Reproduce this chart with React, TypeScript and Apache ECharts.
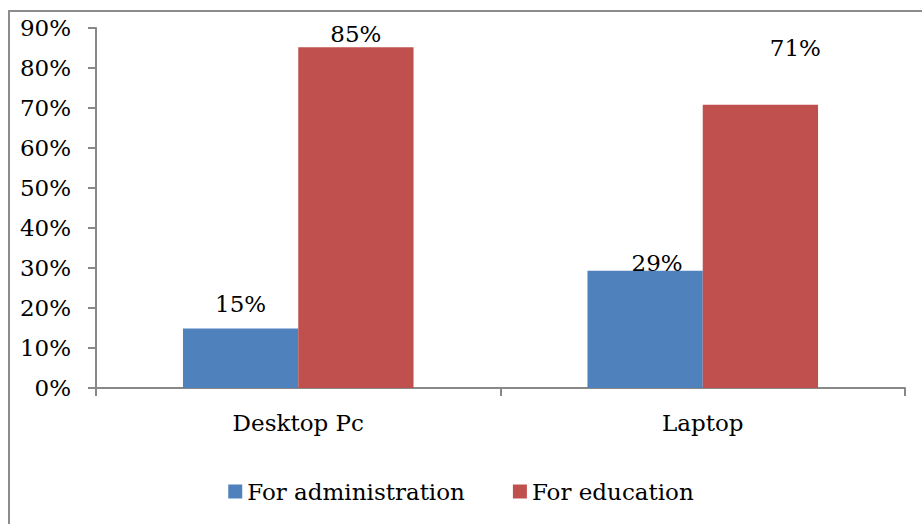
import React, { useEffect, useRef } from "react";
import * as echarts from "echarts";

const categories = ["Desktop Pc", "Laptop"];
const adminValues = [14.9, 29.3];
const eduValues = [85.2, 70.8];
const adminLabels = ["15%", "29%"];
const eduLabels = ["85%", "71%"];
const adminLabelOffsets = [[0, -8], [12, 9]];
const eduLabelOffsets = [[0, 3], [35, -40]];

const FONT = "DejaVu Serif";
const FS = 23;

export default function App() {
  const ref = useRef<HTMLDivElement>(null);
  useEffect(() => {
    if (!ref.current) return;
    const chart = echarts.init(ref.current, undefined, { renderer: "svg" });
    const mkData = (vals: number[], labels: string[], offs: number[][]) =>
      vals.map((v, i) => ({
        value: v,
        label: {
          show: true,
          position: "top",
          offset: offs[i],
          formatter: labels[i],
          color: "#000",
          fontFamily: FONT,
          fontSize: FS,
        },
      }));
    chart.setOption({
      animation: false,
      backgroundColor: "#fff",
      textStyle: { fontFamily: FONT },
      graphic: [
        {
          type: "rect",
          shape: { x: 9, y: 11, width: 930, height: 530 },
          style: { fill: "none", stroke: "#8c8c8c", lineWidth: 2 },
          silent: true,
        },
      ],
      grid: { left: 96, right: 17, top: 28, bottom: 136 },
      xAxis: {
        type: "category",
        data: categories,
        axisLine: { show: true, lineStyle: { color: "#888", width: 2 } },
        axisTick: { show: true, length: 8, lineStyle: { color: "#888", width: 2 } },
        axisLabel: { color: "#000", fontFamily: FONT, fontSize: FS, margin: 23 },
      },
      yAxis: {
        type: "value",
        min: 0,
        max: 90,
        interval: 10,
        splitLine: { show: false },
        axisLine: { show: true, lineStyle: { color: "#888", width: 2 } },
        axisTick: { show: true, length: 8, lineStyle: { color: "#888", width: 2 } },
        axisLabel: {
          color: "#000",
          fontFamily: FONT,
          fontSize: FS,
          margin: 25,
          formatter: "{value}%",
        },
      },
      legend: {
        bottom: 16,
        left: "center",
        icon: "rect",
        itemWidth: 14,
        itemHeight: 14,
        itemGap: 48,
        textStyle: { color: "#000", fontFamily: FONT, fontSize: FS },
        data: ["For administration", "For education"],
      },
      series: [
        {
          name: "For administration",
          type: "bar",
          data: mkData(adminValues, adminLabels, adminLabelOffsets),
          itemStyle: { color: "#4F81BD" },
          barGap: "0%",
          barCategoryGap: "43%",
        },
        {
          name: "For education",
          type: "bar",
          data: mkData(eduValues, eduLabels, eduLabelOffsets),
          itemStyle: { color: "#C0504D" },
          barGap: "0%",
          barCategoryGap: "43%",
        },
      ],
    });
    return () => chart.dispose();
  }, []);
  return (
    <div
      ref={ref}
      style={{ position: "fixed", left: 0, top: 0, width: 922, height: 524 }}
    />
  );
}
